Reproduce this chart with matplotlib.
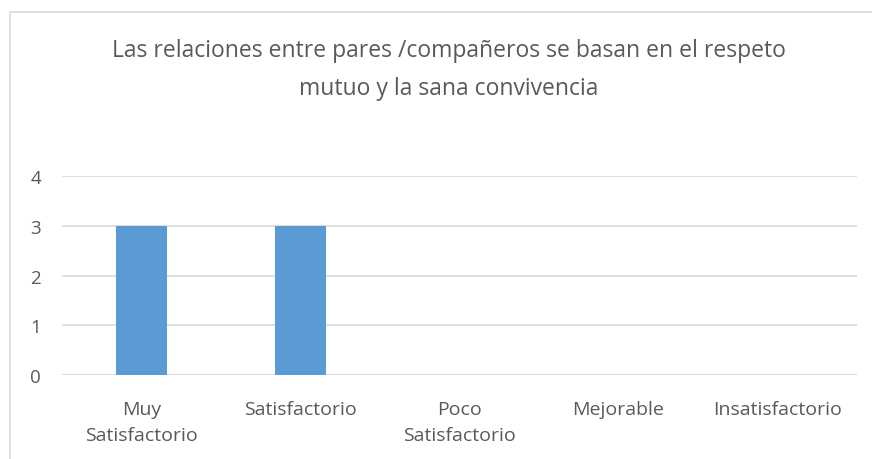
import numpy as np
import matplotlib.pyplot as plt
from matplotlib.patches import Rectangle

# ── data ──────────────────────────────────────────────────
categories = ["Muy\nSatisfactorio", "Satisfactorio", "Poco\nSatisfactorio",
              "Mejorable", "Insatisfactorio"]
values = [3, 3, 0, 0, 0]
y_ticks = [0, 1, 2, 3, 4]
title = ("Las relaciones entre pares /compañeros se basan en el respeto\n"
         "mutuo y la sana convivencia")

BAR_COLOR = "#5B9BD5"
TEXT_COLOR = "#595959"
GRID_COLOR = "#D9D9D9"

plt.rcParams["font.family"] = ["Open Sans", "DejaVu Sans"]

fig = plt.figure(figsize=(8.72, 4.60), dpi=100)

# chart border (extends past right/bottom edge like the reference)
fig.patches.append(Rectangle((10 / 872, -0.1), 1.1, 1 - 13 / 460 + 0.1,
                             transform=fig.transFigure, fill=False,
                             edgecolor=GRID_COLOR, lw=1.2))

ax = fig.add_axes([62 / 872, 1 - 376 / 460, (857 - 62) / 872, (376 - 177) / 460])
x = np.arange(len(categories))
ax.bar(x, values, width=0.315, color=BAR_COLOR, zorder=3)

ax.set_xlim(-0.5, len(categories) - 0.5)
ax.set_ylim(0, 4)
ax.set_yticks(y_ticks)
ax.set_xticks(x)
ax.set_xticklabels(categories, fontsize=14, color=TEXT_COLOR, linespacing=1.6)
ax.tick_params(axis="y", labelsize=13.5, labelcolor=TEXT_COLOR, length=0, pad=15)
ax.tick_params(axis="x", length=0, pad=18)
for lab in ax.get_xticklabels():
    lab.set_verticalalignment("top")

ax.grid(axis="y", color=GRID_COLOR, lw=1.2, zorder=0)
for s in ax.spines.values():
    s.set_visible(False)
ax.axhline(0, color=GRID_COLOR, lw=1.2, zorder=1)

fig.text(449 / 872, 1 - 70 / 460, title, ha="center", va="center",
         fontsize=16.5, color=TEXT_COLOR, linespacing=1.75)

fig.savefig("out.png", dpi=100)
